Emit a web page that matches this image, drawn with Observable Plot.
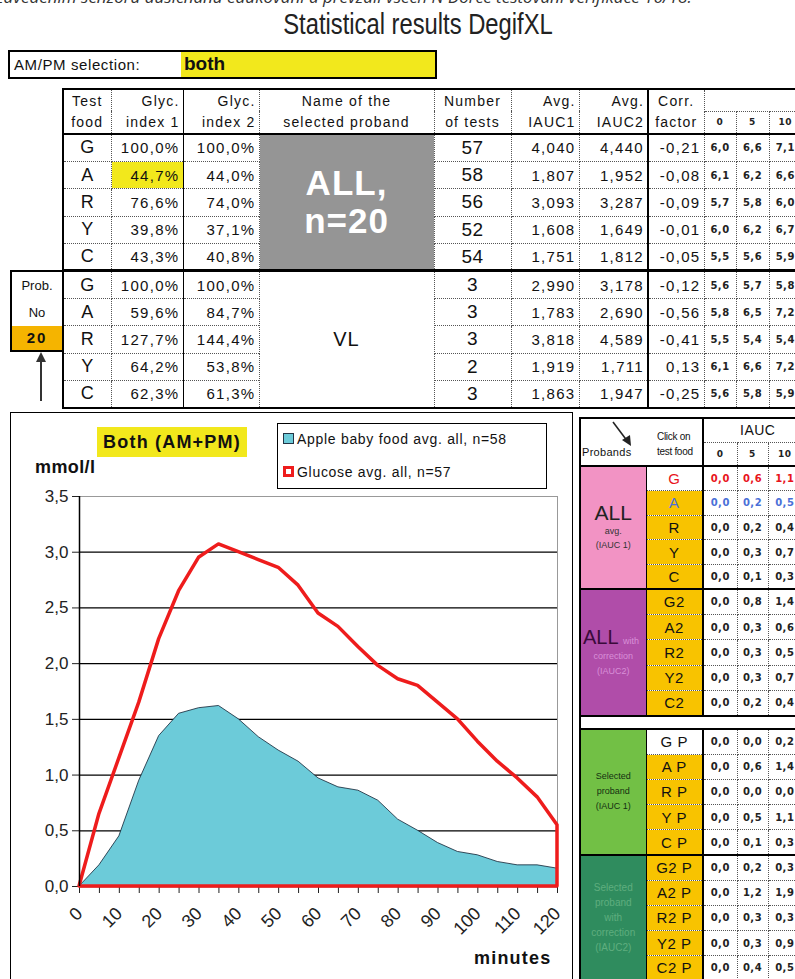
<!DOCTYPE html>
<html><head><meta charset="utf-8">
<script src="https://cdn.jsdelivr.net/npm/d3@7"></script>
<script src="https://cdn.jsdelivr.net/npm/@observablehq/plot@0.6"></script>
<style>
html,body{margin:0;padding:0;background:#fff;}
body{width:795px;height:979px;overflow:hidden;position:relative;font-family:"Liberation Sans",Arial,sans-serif;color:#111;}
.abs{position:absolute;}
#toptext{left:-4px;top:-15px;font-style:italic;font-size:17px;color:#333;white-space:nowrap;font-family:"Open Sans","Liberation Sans",sans-serif;}
#title{left:0;width:836px;top:8px;text-align:center;font-size:29px;color:#222;font-family:"Liberation Sans",Arial,sans-serif;transform:scaleX(0.82);transform-origin:418px 0;}
#ampm{left:8px;top:50px;width:425px;height:25px;border:2px solid #000;background:#fff;}
#ampm .lab{position:absolute;left:4px;top:4px;font-size:15px;letter-spacing:0.6px;}
#ampm .sel{position:absolute;left:171px;top:0;width:254px;height:25px;background:#f2e81c;font-weight:bold;font-size:19px;padding-left:3px;box-sizing:border-box;line-height:23px;}
table{border-collapse:collapse;table-layout:fixed;}
#main{position:absolute;left:62px;top:88px;width:739px;border:2.5px solid #000;}
#main td,#main th{border:1px dotted #555;padding:0 3px;font-weight:normal;white-space:nowrap;overflow:hidden;color:#111;}
#main thead th{font-size:14px;line-height:22px;letter-spacing:1.2px;border-bottom:2px solid #000;}
#main tbody tr{height:27.4px;}
#main tbody td{font-size:15px;letter-spacing:1.3px;}
#main .c{text-align:center;}
#main .r{text-align:right;}
#main .food{font-size:18px;letter-spacing:0;}
#main .num{font-size:19px;letter-spacing:0.5px;}
#main .gi1{border-right:1.5px solid #000;}
#main .iauc2{border-right:2px solid #000;}
#main .small{font-family:"DejaVu Sans",sans-serif;font-size:10px;font-weight:bold;letter-spacing:0.5px;text-align:center;padding:0;color:#222;}
#main thead th.small{font-size:9px;line-height:14px;}
#main .hl{background:#f2e81c;}
#main .gray{background:#959595;color:#fff;font-weight:bold;font-size:35px;line-height:38px;text-align:center;letter-spacing:1px;}
#main .vl{font-size:20px;text-align:center;letter-spacing:1px;}
#main tr.sep td{border-top:3px solid #000;}
#main tbody tr.first td{border-top:2px solid #000;}
#prob{left:10px;top:270px;width:50px;height:78px;border:2px solid #000;background:#fff;font-size:13px;text-align:center;}
#prob div{height:27px;line-height:27px;}
#prob .no{height:24px;line-height:24px;background:#f5b400;font-weight:bold;font-size:15px;letter-spacing:2px;}
#chartbox{left:10px;top:412px;width:561px;height:600px;border:1.5px solid #000;}
#chart{left:10px;top:412px;}
#chart [aria-label^="x-axis"] text{font-size:18px;}
#both{left:97px;top:427px;width:150px;height:30px;background:#f2e81c;font-weight:bold;font-size:18px;line-height:30px;text-align:center;letter-spacing:1.2px;}
#legend{left:277px;top:423px;width:268px;height:64px;border:1.5px solid #000;background:#fff;font-size:14px;letter-spacing:0.7px;}
#legend .it{position:absolute;left:5px;white-space:nowrap;}
#legend .sw{display:inline-block;width:9px;height:9px;margin-right:3px;vertical-align:0px;}
#mmol{left:35px;top:457px;font-weight:bold;font-size:18px;letter-spacing:0.4px;}
#minutes{left:474px;top:948px;font-weight:bold;font-size:18px;letter-spacing:1.2px;}
#side{position:absolute;left:579px;top:417px;width:222px;border:2.5px solid #000;}
#side td,#side th{border:1px dotted #555;padding:0;white-space:nowrap;overflow:hidden;text-align:center;font-weight:normal;}
#side .v{font-family:"DejaVu Sans",sans-serif;font-size:10px;font-weight:bold;letter-spacing:0.5px;color:#222;}
#side .f{background:#f8c300;font-size:15px;border-right:2px solid #000;letter-spacing:0.5px;}
#side .f.w{background:#fff;}
#side .lab{border-right:1.5px solid #000;}
#side tr.bs td{border-top:2.5px solid #000;}
#side tr.gap td{height:11px;border-top:2.5px solid #000;border-bottom:2.5px solid #000;background:#fff;}
.red{color:#e8141c !important;}
.blue{color:#4a70d8 !important;}
</style></head><body>
<div id="toptext" class="abs"></div>
<div id="title" class="abs"></div>
<div id="ampm" class="abs"><span class="lab"></span><span class="sel"></span></div>
<table id="main"></table>
<div id="prob" class="abs"></div>
<svg class="abs" style="left:33px;top:352px" width="16" height="50"><line x1="8" y1="49" x2="8" y2="8" stroke="#333" stroke-width="2"/><polygon points="8,0 3,10 13,10" fill="#333"/></svg>
<div id="chartbox" class="abs"></div>
<div id="chart" class="abs"></div>
<div id="both" class="abs"></div>
<div id="legend" class="abs"></div>
<div id="mmol" class="abs"></div>
<div id="minutes" class="abs"></div>
<table id="side"></table>
<script>
// ---------- data ----------
const topText = "zavedením senzoru dusičnanů edukování a převzali všech N Dorce testování verifikace 16/18.";
const titleText = "Statistical results DegifXL";
const ampmLabel = "AM/PM selection:";
const ampmValue = "both";

const foods = ["G", "A", "R", "Y", "C"];
const headers = [["Test", "food"], ["Glyc.", "index 1"], ["Glyc.", "index 2"], ["Name of the", "selected proband"], ["Number", "of tests"], ["Avg.", "IAUC1"], ["Avg.", "IAUC2"], ["Corr.", "factor"]];
const timeCols = [0, 5, 10];

const allName = ["ALL,", "n=20"];
const gi1All = [100.0, 44.7, 76.6, 39.8, 43.3];
const gi2All = [100.0, 44.0, 74.0, 37.1, 40.8];
const testsAll = [57, 58, 56, 52, 54];
const iauc1All = [4.040, 1.807, 3.093, 1.608, 1.751];
const iauc2All = [4.440, 1.952, 3.287, 1.649, 1.812];
const corrAll = [-0.21, -0.08, -0.09, -0.01, -0.05];
const bgAll = [[6.0, 6.6, 7.1], [6.1, 6.2, 6.6], [5.7, 5.8, 6.0], [6.0, 6.2, 6.7], [5.5, 5.6, 5.9]];

const probName = "VL";
const probNo = "20";
const gi1P = [100.0, 59.6, 127.7, 64.2, 62.3];
const gi2P = [100.0, 84.7, 144.4, 53.8, 61.3];
const testsP = [3, 3, 3, 2, 3];
const iauc1P = [2.990, 1.783, 3.818, 1.919, 1.863];
const iauc2P = [3.178, 2.690, 4.589, 1.711, 1.947];
const corrP = [-0.12, -0.56, -0.41, 0.13, -0.25];
const bgP = [[5.6, 5.7, 5.8], [5.8, 6.5, 7.2], [5.5, 5.4, 5.4], [6.1, 6.6, 7.2], [5.6, 5.8, 5.9]];

// chart series (mmol/l at each minute)
const minutes = [0, 5, 10, 15, 20, 25, 30, 35, 40, 45, 50, 55, 60, 65, 70, 75, 80, 85, 90, 95, 100, 105, 110, 115, 120];
const glucoseAvg = [0, 0.65, 1.15, 1.65, 2.22, 2.65, 2.95, 3.07, 3.0, 2.93, 2.86, 2.7, 2.45, 2.33, 2.15, 1.98, 1.86, 1.8, 1.65, 1.5, 1.3, 1.12, 0.97, 0.8, 0.55];
const appleAvg = [0, 0.19, 0.45, 0.95, 1.35, 1.55, 1.6, 1.62, 1.5, 1.34, 1.22, 1.12, 0.97, 0.89, 0.86, 0.77, 0.6, 0.5, 0.39, 0.31, 0.28, 0.22, 0.19, 0.19, 0.16];
const yTicks = [0, 0.5, 1, 1.5, 2, 2.5, 3, 3.5];
const chartTag = "Both (AM+PM)";
const legendApple = "Apple baby food avg. all, n=58";
const legendGlucose = "Glucose avg. all, n=57";
const yLabel = "mmol/l";
const xLabel = "minutes";

// right panel
const sideHeader = {probands: "Probands", click: ["Click on", "test food"], iauc: "IAUC"};
const sideBlocks = [
  {label: ["ALL", "avg.", "(IAUC 1)"], color: "#f293c4", foods: ["G", "A", "R", "Y", "C"],
   vals: [[0.0, 0.6, 1.1], [0.0, 0.2, 0.5], [0.0, 0.2, 0.4], [0.0, 0.3, 0.7], [0.0, 0.1, 0.3]]},
  {label: ["ALL", "with", "correction", "(IAUC2)"], color: "#b04da9", foods: ["G2", "A2", "R2", "Y2", "C2"],
   vals: [[0.0, 0.8, 1.4], [0.0, 0.3, 0.6], [0.0, 0.3, 0.5], [0.0, 0.3, 0.7], [0.0, 0.2, 0.4]]},
  {label: ["Selected", "proband", "(IAUC 1)"], color: "#72c045", foods: ["G P", "A P", "R P", "Y P", "C P"],
   vals: [[0.0, 0.0, 0.2], [0.0, 0.6, 1.4], [0.0, 0.0, 0.0], [0.0, 0.5, 1.1], [0.0, 0.1, 0.3]]},
  {label: ["Selected", "proband", "with", "correction", "(IAUC2)"], color: "#2f8c5e", foods: ["G2 P", "A2 P", "R2 P", "Y2 P", "C2 P"],
   vals: [[0.0, 0.2, 0.3], [0.0, 1.2, 1.9], [0.0, 0.3, 0.3], [0.0, 0.3, 0.9], [0.0, 0.4, 0.5]]}
];
const sideRowH = [24.6, 25.4, 25.2, 25.2];

// ---------- formatting ----------
const comma = s => s.replace(".", ",");
const pct = v => comma(v.toFixed(1)) + "%";
const f3 = v => comma(v.toFixed(3));
const f2 = v => comma(v.toFixed(2));
const f1 = v => comma(v.toFixed(1));

// ---------- header texts ----------
document.getElementById("toptext").textContent = topText;
document.getElementById("title").textContent = titleText;
document.querySelector("#ampm .lab").textContent = ampmLabel;
document.querySelector("#ampm .sel").textContent = ampmValue;

// ---------- main table ----------
const colW = [48, 72, 76, 175, 77, 68, 69, 56, 32, 33, 33];
const hAlign = ["c", "r", "r", "c", "c", "r", "r", "c"];
let html = "<colgroup>" + colW.map(w => `<col style="width:${w}px">`).join("") + "</colgroup>";
html += "<thead><tr style='height:22px'>" + headers.map((h, i) =>
  `<th rowspan="2" class="${hAlign[i]}${i === 1 ? " gi1" : ""}${i === 6 ? " iauc2" : ""}" style="line-height:21px">${h[0]}<br>${h[1]}</th>`).join("") +
  `<th colspan="3" style="border-bottom:1px dotted #555"></th></tr>`;
html += "<tr style='height:23px'>" + timeCols.map(t => `<th class="small">${t}</th>`).join("") + "</tr></thead><tbody>";
function block(gi1, gi2, nameCell, tests, i1, i2, cf, bg, rowCls, hlIdx) {
  return foods.map((f, i) => `<tr class="${i === 0 ? rowCls : ""}">
    <td class="c food">${f}</td>
    <td class="r gi1${i === hlIdx ? " hl" : ""}">${pct(gi1[i])}</td>
    <td class="r">${pct(gi2[i])}</td>
    ${i === 0 ? nameCell : ""}
    <td class="c num">${tests[i]}</td>
    <td class="r">${f3(i1[i])}</td>
    <td class="r iauc2">${f3(i2[i])}</td>
    <td class="r">${f2(cf[i])}</td>
    ${bg[i].map(v => `<td class="small">${f1(v)}</td>`).join("")}
  </tr>`).join("");
}
html += block(gi1All, gi2All, `<td rowspan="5" class="gray">${allName.join("<br>")}</td>`, testsAll, iauc1All, iauc2All, corrAll, bgAll, "first", 1);
html += block(gi1P, gi2P, `<td rowspan="5" class="vl">${probName}</td>`, testsP, iauc1P, iauc2P, corrP, bgP, "sep", -1);
html += "</tbody>";
document.getElementById("main").innerHTML = html;

document.getElementById("prob").innerHTML = `<div>Prob.</div><div>No</div><div class="no">${probNo}</div>`;

// ---------- chart overlays ----------
document.getElementById("both").textContent = chartTag;
document.getElementById("mmol").textContent = yLabel;
document.getElementById("minutes").textContent = xLabel;
document.getElementById("legend").innerHTML =
  `<div class="it" style="top:7px"><span class="sw" style="background:#6ccbd9;border:1px solid #234"></span>${legendApple}</div>` +
  `<div class="it" style="top:40px"><span class="sw" style="background:#fff;border:3px solid #ee1c1c;width:5px;height:5px"></span>${legendGlucose}</div>`;

// ---------- chart ----------
const appleData = minutes.map((m, i) => ({m, v: appleAvg[i]}));
const glucoseData = minutes.map((m, i) => ({m, v: glucoseAvg[i]}));
const chart = Plot.plot({
  width: 563, height: 567,
  marginLeft: 69, marginRight: 16, marginTop: 84, marginBottom: 93,
  style: {fontFamily: "Liberation Sans, Arial, sans-serif", fontSize: "17px", color: "#222", background: "transparent", overflow: "visible"},
  x: {domain: [0, 120], ticks: minutes, tickFormat: d => d % 10 === 0 ? String(d) : "", tickRotate: -45, tickSize: 7, tickPadding: 17, label: null},
  y: {domain: [0, 3.5], ticks: yTicks, tickFormat: d => f1(d), tickSize: 7, tickPadding: 4, label: null},
  marks: [
    Plot.ruleY(yTicks.filter(d => d > 0 && d < 3.5), {stroke: "#000", strokeWidth: 1.3}),
    Plot.ruleY([3.5], {stroke: "#999"}),
    Plot.ruleX([120], {stroke: "#999"}),
    Plot.areaY(appleData, {x: "m", y: "v", fill: "#6ccbd9", stroke: "#123", strokeWidth: 0.8}),
    Plot.ruleY([0], {stroke: "#000", strokeWidth: 1.3}),
    Plot.areaY(glucoseData, {x: "m", y: "v", fill: "none", stroke: "#ee1c1c", strokeWidth: 3.5, strokeLinejoin: "round"}),
    Plot.ruleX([0], {stroke: "#000", strokeWidth: 1.5})
  ]
});
document.getElementById("chart").appendChild(chart);

// ---------- right panel ----------
const sideW = [66, 57, 34, 31, 34];
let sh = "<colgroup>" + sideW.map(w => `<col style="width:${w}px">`).join("") + "</colgroup>";
sh += `<tr style="height:24px"><td colspan="2" rowspan="2" style="border-right:2px solid #000;border-bottom:2.5px solid #000;position:relative;text-align:left">
  <div style="position:relative;height:46px">
   <span style="position:absolute;left:1px;top:27px;font-size:11px;letter-spacing:0.3px">${sideHeader.probands}</span>
   <svg style="position:absolute;left:30px;top:2px" width="24" height="26"><line x1="2" y1="1" x2="17" y2="21" stroke="#222" stroke-width="1.6"/><polygon points="20,25 11,19 19,14" fill="#222"/></svg>
   <span style="position:absolute;left:76px;top:10px;font-size:10px;line-height:15px;letter-spacing:-0.3px">${sideHeader.click[0]}<br>${sideHeader.click[1]}</span>
  </div></td>
  <td colspan="3" style="text-align:left;padding-left:36px;font-size:14px;letter-spacing:0.5px">${sideHeader.iauc}</td></tr>`;
sh += `<tr style="height:24px">` + timeCols.map(t => `<td class="v" style="border-bottom:2.5px solid #000;font-size:9px">${t}</td>`).join("") + "</tr>";
sideBlocks.forEach((b, bi) => {
  if (bi === 2) sh += `<tr class="gap"><td colspan="5"></td></tr>`;
  b.foods.forEach((f, i) => {
    const cls = bi === 0 && i === 0 ? "red" : (bi === 0 && i === 1 ? "blue" : "");
    const white = (bi === 0 || bi === 2) && i === 0 ? " w" : "";
    let labelCell = "";
    if (i === 0) {
      let inner;
      if (bi === 0) inner = `<div style="font-size:21px;line-height:22px;color:#222">${b.label[0]}</div><div style="font-size:9px;line-height:15px;color:#333">${b.label[1]}</div><div style="font-size:9px;line-height:13px;color:#333">${b.label[2]}</div>`;
      else if (bi === 1) inner = `<div style="text-align:left;padding-left:2px;white-space:nowrap"><span style="font-size:20px;color:#3a0a3a">${b.label[0]}</span> <span style="font-size:9px;color:#d890d8">${b.label[1]}</span></div><div style="font-size:9px;line-height:15px;color:#d890d8">${b.label[2]}</div><div style="font-size:9px;line-height:15px;color:#d890d8">${b.label[3]}</div>`;
      else if (bi === 2) inner = b.label.map(t => `<div style="font-size:9px;line-height:15px;color:#143012">${t}</div>`).join("");
      else inner = b.label.map(t => `<div style="font-size:10px;line-height:15px;color:#5fae7e">${t}</div>`).join("");
      labelCell = `<td rowspan="5" class="lab" style="background:${b.color}">${inner}</td>`;
    }
    sh += `<tr class="${i === 0 && bi !== 2 ? "bs" : ""}" style="height:${sideRowH[bi]}px">${labelCell}<td class="f${white} ${cls}">${f}</td>` +
      b.vals[i].map(v => `<td class="v ${cls}">${f1(v)}</td>`).join("") + "</tr>";
  });
});
document.getElementById("side").innerHTML = sh;
</script>
</body></html>
